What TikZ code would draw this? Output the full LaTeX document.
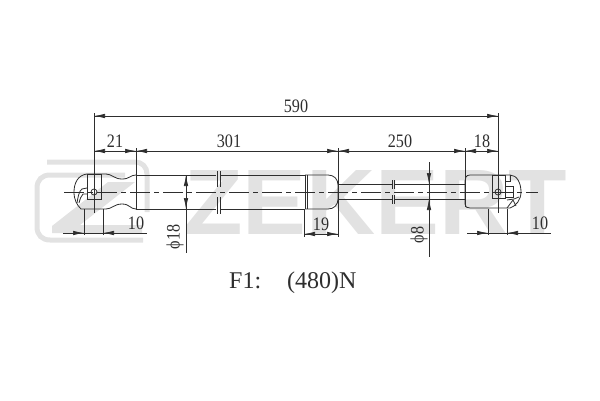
\documentclass[tikz,border=0pt]{standalone}
\usepackage{fontspec}
\setmainfont{Liberation Serif}
\newfontfamily\dimfont[FakeStretch=0.85]{Liberation Serif}
\newfontfamily\forcefont{Liberation Serif}
\newfontfamily\markfont{Liberation Sans}
\usetikzlibrary{arrows.meta}
\definecolor{ink}{HTML}{2E2E2E}
\definecolor{wmgrey}{HTML}{E2E2E2}
\tikzset{
  line/.style={draw=ink,line width=0.8pt},
  thin line/.style={draw=ink,line width=0.65pt},
  center line/.style={draw=ink,line width=0.65pt,dash pattern=on 20pt off 4pt on 5pt off 4pt},
  arrowline/.style={draw=ink,line width=0.65pt,-{Latex[length=11pt,width=4.5pt]}},
  dim/.style={font=\dimfont\fontsize{19}{19}\selectfont,text=ink,inner sep=0pt},
  force/.style={font=\forcefont\fontsize{24}{24}\selectfont,text=ink,inner sep=0pt},
  bandmark/.style={draw=wmgrey,line width=5pt,line cap=butt},
}
\begin{document}
\begin{tikzpicture}[x=1pt,y=-1pt]
\useasboundingbox (0,0) rectangle (600,400);
% watermark
\node[anchor=base west,inner sep=0pt,text=wmgrey,font=\markfont\bfseries\fontsize{93}{93}\selectfont,xscale=1.03] (wordmark) at (184,234) {ZEKERT};
\draw[bandmark] (47,162) -- (135,162) .. controls (142,162) and (147,167) .. (147,174) -- (147,212);
\draw[bandmark] (125,175) -- (50,175) .. controls (42,175) and (37,180) .. (37,188) -- (37,227) .. controls (37,235) and (42,240) .. (50,240) -- (143,240);
\fill[wmgrey] (108,182) -- (135,182) -- (80,225) -- (142,225) -- (142,233) -- (52,233) -- (52,226) -- cycle;
% extension lines
\draw[thin line] (94,113) -- (94,213);
\draw[thin line] (498,113) -- (498,213);
\draw[thin line] (136,148) -- (136,209);
\draw[thin line] (338,148) -- (338,237);
\draw[thin line] (465,148) -- (465,207);
\draw[thin line] (304,209) -- (304,237);
\draw[thin line] (84,209) -- (84,235);
\draw[thin line] (103,209) -- (103,235);
\draw[thin line] (488,209) -- (488,235);
\draw[thin line] (507,209) -- (507,235);
% dimension lines
\draw[thin line] (94,116) -- (498,116);
\draw[thin line] (94,151) -- (136,151);
\draw[thin line] (136,151) -- (498,151);
\draw[thin line] (63,233) -- (147,233);
\draw[thin line] (467,233) -- (551,233);
\draw[thin line] (304,234) -- (338,234);
\draw[thin line] (186,175) -- (186,253);
\draw[thin line] (429,162) -- (429,257);
\draw[thin line] (425,184) -- (435,184);
% arrowheads
\draw[arrowline] (106,116) -- (94,116);
\draw[arrowline] (486,116) -- (498,116);
\draw[arrowline] (106,151) -- (94,151);
\draw[arrowline] (124,151) -- (136,151);
\draw[arrowline] (148,151) -- (136,151);
\draw[arrowline] (327,151) -- (338,151);
\draw[arrowline] (350,151) -- (338,151);
\draw[arrowline] (453,151) -- (465,151);
\draw[arrowline] (477,151) -- (465,151);
\draw[arrowline] (486,151) -- (498,151);
\draw[arrowline] (73,233) -- (84,233);
\draw[arrowline] (115,233) -- (103,233);
\draw[arrowline] (477,233) -- (488,233);
\draw[arrowline] (519,233) -- (507,233);
\draw[arrowline] (316,234) -- (304,234);
\draw[arrowline] (327,234) -- (338,234);
\draw[arrowline] (186,187) -- (186,175);
\draw[arrowline] (186,197) -- (186,209);
\draw[arrowline] (429,172) -- (429,184);
\draw[arrowline] (429,211) -- (429,199);
% centre line
\draw[center line] (64,192) -- (538,192);
% tube
\draw[line] (136,175) -- (216,175) (221,175) -- (305,175);
\draw[line] (136,209) -- (216,209) (221,209) -- (305,209);
\draw[line] (305,175) -- (328,175) .. controls (334,175) and (338,179) .. (338,185) -- (338,199) .. controls (338,205) and (334,209) .. (328,209) -- (305,209);
\draw[line] (305,175) -- (305,209) (307,175) -- (307,209);
\draw[thin line] (217,171) -- (217,187) (220,171) -- (220,187) (217,197) -- (217,214) (220,197) -- (220,214);
% rod
\draw[line] (338,184) -- (392,184) (395,184) -- (465,184);
\draw[line] (338,199) -- (392,199) (395,199) -- (465,199);
\draw[thin line] (392,180) -- (392,189) (394,180) -- (394,189) (392,195) -- (392,204) (394,195) -- (394,204);
% left eye
\draw[line] (87,174) .. controls (78,175) and (74,183) .. (74,192) .. controls (74,200) and (77,205) .. (81,209) -- (106,209) .. controls (112,209) and (114,204) .. (122,204) .. controls (130,204) and (130,209) .. (136,209);
\draw[line] (87,174) -- (106,174) .. controls (112,174) and (114,179) .. (122,179) .. controls (130,179) and (130,175) .. (136,175);
\draw[line] (87,174) rectangle (101,199);
\draw[line] (94,192) circle[radius=3];
\draw[line] (87,188) -- (82,189) .. controls (79,191) and (78,197) .. (77,203);
\draw[line] (87,194) -- (83,194) .. controls (81,196) and (80,199) .. (79,203);
% right eye
\draw[line] (492,175) -- (470,175) .. controls (466,175) and (465,178) .. (465,181) -- (465,204) .. controls (465,207) and (467,208) .. (470,208) -- (507,208);
\draw[line] (492,175) -- (510,175) .. controls (517,175) and (521,183) .. (521,192) .. controls (521,200) and (516,206) .. (510,208) -- (507,208);
\draw[line] (492,175) rectangle (505,198);
\draw[line] (498,192) circle[radius=3];
\draw[line] (505,186) -- (513,186) -- (513,197) -- (505,197);
\draw[line] (505,181) -- (510,181) -- (510,175);
\draw[line] (507,200) -- (514,199) -- (519,197);
\draw[line] (507,208) -- (513,200) -- (516,206);
% texts
\node[dim] (d590) at (296,106) {590};
\node[dim] (d21) at (115,141) {21};
\node[dim] (d301) at (229,141) {301};
\node[dim] (d250) at (400,141) {250};
\node[dim] (d18) at (482,141) {18};
\node[dim] (dl10) at (136,223) {10};
\node[dim] (d19) at (321,224) {19};
\node[dim] (dr10) at (540,223) {10};
\node[dim,rotate=90] (dphi18) at (175,237) {ϕ18};
\node[dim,rotate=90] (dphi8) at (419,235) {ϕ8};
\node[force,anchor=base west] (f1) at (229,288) {F1:};
\node[force,anchor=base west] (f2) at (287,288) {(480)N};
\end{tikzpicture}
\end{document}
